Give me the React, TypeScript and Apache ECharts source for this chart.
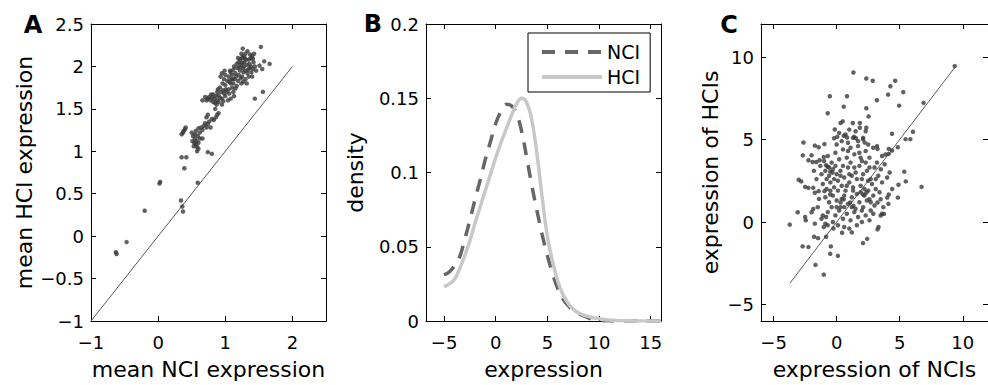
import React, { useEffect, useRef } from 'react';
import * as echarts from 'echarts';

const FONT = 'DejaVu Sans';

// ---------- Panel A : mean NCI vs mean HCI expression ----------
const scatterA: number[][] = [
  // upper dense cluster
  [1.20, 2.05], [1.22, 2.08], [1.25, 2.10], [1.27, 2.12], [1.30, 2.15], [1.24, 2.15], [1.28, 2.05], [1.32, 2.02],
  [1.35, 2.08], [1.38, 2.10], [1.40, 2.12], [1.42, 2.05], [1.36, 1.98], [1.30, 1.95], [1.26, 1.98], [1.22, 1.95],
  [1.18, 1.98], [1.15, 1.92], [1.20, 1.90], [1.25, 1.88], [1.33, 1.92], [1.38, 2.00], [1.41, 1.97], [1.28, 2.00],
  [1.23, 2.02], [1.17, 2.03], [1.12, 1.96], [1.10, 1.90], [1.14, 1.85], [1.19, 1.83], [1.24, 1.80], [1.30, 1.85],
  [1.35, 1.88], [1.39, 1.93], [1.43, 2.15], [1.33, 2.18], [1.26, 2.21], [1.31, 2.08], [1.27, 1.93], [1.21, 1.99],
  [1.16, 1.88], [1.13, 2.00], [1.29, 2.10], [1.36, 2.03], [1.44, 2.00], [1.37, 2.14], [1.19, 2.10], [1.34, 1.96],
  [1.40, 1.88], [1.46, 1.95], [1.23, 1.86], [1.09, 1.85], [1.12, 1.80], [1.17, 1.77], [1.06, 1.82], [1.27, 1.82],
  [1.32, 1.80], [1.08, 1.93], [1.41, 2.09], [1.25, 2.04],
  // middle cluster
  [0.95, 1.92], [1.00, 1.90], [1.05, 1.88], [0.98, 1.85], [1.03, 1.83], [1.08, 1.80], [1.10, 1.75], [1.05, 1.73],
  [1.00, 1.78], [0.96, 1.80], [0.92, 1.75], [0.94, 1.70], [0.98, 1.68], [1.02, 1.70], [1.06, 1.68], [0.90, 1.66],
  [0.88, 1.70], [0.86, 1.65], [0.84, 1.62], [0.88, 1.60], [0.92, 1.63], [0.95, 1.62], [1.00, 1.65], [0.82, 1.67],
  [0.80, 1.63], [0.78, 1.60], [0.76, 1.64], [0.74, 1.62], [0.72, 1.60], [0.70, 1.64], [0.66, 1.60], [0.90, 1.58],
  [0.85, 1.57], [0.97, 1.59], [1.04, 1.60], [1.12, 1.70], [1.13, 1.65], [1.08, 1.62], [0.93, 1.88], [0.99, 1.95],
  [1.07, 1.95], [1.11, 1.85], [0.87, 1.55], [0.82, 1.58], [0.79, 1.67], [0.95, 1.55], [1.01, 1.73], [0.97, 1.72],
  [0.89, 1.73], [1.15, 1.74],
  // lower band
  [0.35, 1.20], [0.37, 1.22], [0.38, 1.24], [0.40, 1.26], [0.41, 1.28], [0.50, 1.22], [0.52, 1.18], [0.55, 1.15],
  [0.54, 1.10], [0.56, 1.08], [0.58, 1.05], [0.53, 1.06], [0.57, 1.12], [0.60, 1.10], [0.59, 1.18], [0.62, 1.22],
  [0.56, 1.24], [0.60, 1.27], [0.64, 1.28], [0.66, 1.25], [0.68, 1.30], [0.70, 1.33], [0.72, 1.28], [0.74, 1.32],
  [0.76, 1.35], [0.72, 1.40], [0.74, 1.43], [0.80, 1.38], [0.83, 1.37], [0.86, 1.40], [0.88, 1.43], [0.90, 1.45],
  [0.85, 1.50], [0.62, 1.15], [0.55, 1.20], [0.51, 1.12], [0.58, 1.00], [0.60, 1.03], [0.66, 1.15], [0.78, 1.28],
  // scattered points
  [0.74, 0.99], [0.80, 0.97], [0.35, 0.93], [0.42, 0.93], [0.39, 0.80], [0.02, 0.62], [0.03, 0.64], [0.59, 0.63],
  [0.34, 0.42], [0.36, 0.35], [0.37, 0.29], [-0.20, 0.30], [-0.47, -0.07], [-0.63, -0.19], [-0.62, -0.21],
  [1.53, 2.23], [1.58, 2.06], [1.66, 2.03], [1.51, 2.01], [1.55, 1.97], [1.56, 1.70], [1.44, 1.62],
];
const diagonalA: number[][] = [[-1, -1], [2, 2]];
const ticksAX = [-1, 0, 1, 2];
const ticksAY = [-1, -0.5, 0, 0.5, 1, 1.5, 2, 2.5];

// ---------- Panel B : density of expression ----------
const densityX = [-5, -4.5, -4, -3.5, -3, -2.5, -2, -1.5, -1, -0.5, 0, 0.5, 1, 1.5, 2, 2.5, 3, 3.5, 4, 4.5, 5, 5.5, 6, 6.5, 7, 7.5, 8, 8.5, 9, 9.5, 10, 11, 12, 13, 14, 15, 16];
const densityNCI = [0.031, 0.033, 0.037, 0.043, 0.055, 0.068, 0.082, 0.095, 0.109, 0.121, 0.133, 0.141, 0.146, 0.145, 0.140, 0.128, 0.110, 0.091, 0.074, 0.058, 0.044, 0.032, 0.022, 0.015, 0.0105, 0.007, 0.005, 0.0035, 0.002, 0.001, 0.0005, 0.0001, 0, 0, 0, 0, 0];
const densityHCI = [0.023, 0.025, 0.028, 0.035, 0.044, 0.054, 0.066, 0.077, 0.088, 0.099, 0.110, 0.120, 0.129, 0.138, 0.146, 0.150, 0.147, 0.135, 0.112, 0.083, 0.057, 0.040, 0.027, 0.018, 0.012, 0.008, 0.0055, 0.004, 0.003, 0.002, 0.0015, 0.0006, 0.0002, 0.0001, 0, 0, 0];
const seriesNames = ['NCI', 'HCI'];
const ticksBX = [-5, 0, 5, 10, 15];
const ticksBY = [0, 0.05, 0.1, 0.15, 0.2];

// ---------- Panel C : NCIs vs HCIs ----------
const scatterC: number[][] = [
  [9.36, 9.45], [-3.72, -0.16], [1.33, 9.06], [2.35, 8.70], [2.86, 8.56], [4.64, 8.56], [4.26, 8.23], [4.08, 7.72],
  [5.28, 7.87], [-0.54, 7.62], [0.82, 7.62], [3.19, 7.38], [6.89, 7.22], [0.56, 6.99], [2.35, 6.89], [4.95, 7.05],
  [-0.71, 6.59], [2.53, 6.40], [0.48, 6.10], [0.31, 6.0], [1.28, 6.0], [1.84, 6.0], [-0.15, 5.61], [1.84, 5.71],
  [2.35, 5.71], [4.39, 5.35], [6.05, 5.47], [5.46, 5.02], [5.84, 5.02], [-2.63, 4.82], [-1.73, 4.63], [-0.97, 4.72],
  [-1.43, 4.53], [-0.2, 5.08], [0.05, 5.16], [0.56, 5.22], [0.82, 5.12], [1.38, 5.16], [1.53, 5.08], [2.09, 5.02],
  [2.22, 4.82], [4.85, 4.53], [4.13, 4.43], [4.39, 4.33], [4.13, 4.13], [3.88, 4.09], [3.24, 4.43], [-2.68, 4.04],
  [-1.99, 4.04], [-2.24, 3.74], [-1.91, 3.64], [-1.61, 3.64], [-1.35, 3.74], [-1.02, 3.94], [-0.84, 3.44], [-0.71, 3.35],
  [-0.51, 3.05], [-0.33, 2.99], [-3.01, 2.56], [-2.81, 2.46], [-2.50, 2.13], [-2.24, 2.07], [-1.86, 2.07], [-1.73, 1.77],
  [-1.43, 1.87], [-0.97, 1.87], [-0.51, 1.67], [0.31, 1.18], [0.56, 1.38], [1.07, 1.18], [1.33, 0.98], [2.09, 1.67],
  [2.35, 1.77], [2.60, 1.38], [3.24, 1.18], [3.49, 1.38], [4.13, 1.67], [4.01, 1.48], [4.85, 1.48], [4.90, 2.26],
  [5.48, 2.46], [6.73, 2.13], [5.36, 3.05], [-3.09, 0.59], [-2.50, 0.30], [-2.45, 0.10], [-1.86, 0.79], [-1.99, 0.59],
  [-1.73, -0.10], [-1.10, 0.39], [-0.84, 0.30], [-1.02, -0.30], [-0.71, -0.20], [-1.79, -0.89], [-1.48, -0.98],
  [-2.70, -1.48], [-2.24, -1.52], [-0.84, -0.89], [-0.26, -0.39], [-0.46, -1.48], [-0.51, -1.93], [0.10, -2.05],
  [-1.68, -2.60], [-1.02, -3.19], [0.43, -0.65], [1.20, -0.63], [2.09, -1.28], [2.42, -1.02], [3.24, -0.45],
  [3.32, -0.30], [3.49, 0.39], [3.75, 0.49],
  // dense core
  [-1.2, 2.9], [-0.9, 3.1], [-0.6, 2.8], [-0.3, 3.2], [0.0, 2.9], [0.3, 3.1], [0.6, 2.7], [0.9, 3.3], [1.2, 2.8],
  [1.5, 3.0], [1.8, 3.4], [2.1, 2.9], [2.4, 3.1], [2.7, 2.6], [3.0, 3.3],
  [-1.1, 2.3], [-0.8, 2.0], [-0.5, 2.4], [-0.2, 2.1], [0.1, 2.5], [0.4, 2.2], [0.7, 1.9], [1.0, 2.4], [1.3, 2.1],
  [1.6, 2.6], [1.9, 2.2], [2.2, 2.0], [2.5, 2.5], [2.8, 2.3], [3.1, 2.0],
  [-0.9, 1.5], [-0.6, 1.2], [-0.3, 1.6], [0.0, 1.3], [0.3, 0.9], [0.6, 1.6], [0.9, 1.1], [1.2, 1.5], [1.5, 0.8],
  [1.8, 1.2], [2.1, 0.9], [2.4, 1.3], [2.7, 0.7], [3.0, 1.0],
  [-0.7, 0.6], [-0.4, 0.9], [-0.1, 0.4], [0.2, 0.7], [0.5, 0.2], [0.8, 0.5], [1.1, 0.1], [1.4, 0.6], [1.7, 0.3],
  [2.0, 0.7], [2.3, 0.4], [2.6, 0.1], [2.9, 0.5],
  [-1.0, 3.7], [-0.7, 4.0], [-0.4, 3.6], [-0.1, 4.2], [0.2, 3.8], [0.5, 4.4], [0.8, 3.9], [1.1, 4.5], [1.4, 4.1],
  [1.7, 4.6], [2.0, 3.7], [2.3, 4.3], [2.6, 3.9], [2.9, 4.5], [3.2, 3.6],
  [0.0, 4.7], [0.4, 4.9], [0.9, 4.8], [1.3, 5.1], [1.7, 4.9], [2.1, 5.1], [2.5, 4.7], [0.7, 5.3], [1.0, 5.6],
  [0.2, 5.4], [1.5, 5.5], [2.3, 5.5],
  [-1.6, 2.6], [-1.8, 3.1], [-1.4, 1.4], [-1.5, 0.9], [-1.2, 0.2], [-0.9, -0.1], [-0.3, 0.0], [0.1, -0.2],
  [0.6, -0.3], [1.0, -0.4], [1.6, -0.2], [2.0, 0.0],
  [3.3, 2.8], [3.5, 3.2], [3.4, 1.8], [3.6, 2.4], [3.7, 0.9], [3.6, 0.5], [3.8, 3.5], [4.0, 2.7], [4.2, 3.0],
  [4.4, 2.0], [4.1, 1.1], [3.2, 4.6], [3.6, 4.0],
  [-1.3, 3.4], [-0.5, 1.9], [0.5, 3.4], [1.1, 3.6], [1.9, 3.9], [2.6, 3.3], [0.4, 1.4], [1.3, 1.9], [2.2, 1.6],
  [-0.1, 3.4], [0.8, 2.2], [1.6, 1.7], [2.9, 1.6], [0.3, 2.8], [1.4, 3.3], [2.0, 2.6],
  [-0.2, 2.6], [0.6, 0.9], [1.2, 0.9], [1.9, 1.8], [2.5, 1.9], [0.9, 4.3], [1.8, 4.2], [-0.6, 3.3], [0.1, 1.9],
  [2.7, 1.2], [3.1, 2.6], [1.0, 2.9], [0.0, 0.9], [-0.8, 2.6], [2.3, 3.6],
];
const diagonalC: number[][] = [[-3.7, -3.7], [9.4, 9.4]];
const ticksC = [-5, 0, 5, 10];

const axisTitles = {
  ax: 'mean NCI expression', ay: 'mean HCI expression',
  bx: 'expression', by: 'density',
  cx: 'expression of NCIs', cy: 'expression of HCIs',
};

const fmt = (v: number) => String(v).replace('-', '\u2212');

const grids = [
  { left: 91, top: 24, width: 235, height: 305 },
  { left: 426, top: 24, width: 235, height: 305 },
  { left: 761, top: 24, width: 235, height: 305 },
];

function tick(ticks: number[]) {
  return { show: true, inside: true, length: 5, customValues: ticks, lineStyle: { color: '#000', width: 1 } };
}

const frameLine = { show: true, onZero: false, lineStyle: { color: '#000', width: 1 } };

function xAxes(gridIndex: number, min: number, max: number, ticks: number[], name: string) {
  return [
    {
      type: 'value', gridIndex, min, max, position: 'bottom',
      axisLine: frameLine, splitLine: { show: false }, axisTick: tick(ticks),
      axisLabel: { customValues: ticks, formatter: fmt, fontFamily: FONT, fontSize: 18, color: '#000', margin: 12 },
      name, nameLocation: 'middle', nameGap: 37,
      nameTextStyle: { fontFamily: FONT, fontSize: 22, color: '#000' },
    },
    {
      type: 'value', gridIndex, min, max, position: 'top',
      axisLine: frameLine, splitLine: { show: false }, axisTick: tick(ticks),
      axisLabel: { show: false },
    },
  ];
}

function yAxes(gridIndex: number, min: number, max: number, ticks: number[], name: string, gap: number) {
  return [
    {
      type: 'value', gridIndex, min, max, position: 'left',
      axisLine: frameLine, splitLine: { show: false }, axisTick: tick(ticks),
      axisLabel: { customValues: ticks, formatter: fmt, fontFamily: FONT, fontSize: 18, color: '#000', margin: 7 },
      name, nameLocation: 'middle', nameGap: gap, nameRotate: 90,
      nameTextStyle: { fontFamily: FONT, fontSize: 22, color: '#000' },
    },
    {
      type: 'value', gridIndex, min, max, position: 'right',
      axisLine: frameLine, splitLine: { show: false }, axisTick: tick(ticks),
      axisLabel: { show: false },
    },
  ];
}

export default function App() {
  const ref = useRef<HTMLDivElement>(null);
  useEffect(() => {
    if (!ref.current) return;
    const chart = echarts.init(ref.current, null, { renderer: 'svg' });
    const letters = ['A', 'B', 'C'];
    const letterPos = [[33, 25], [373, 24], [729, 25]];
    chart.setOption({
      animation: false,
      backgroundColor: '#fff',
      grid: grids.map((g) => ({ ...g, show: false, containLabel: false })),
      xAxis: [
        ...xAxes(0, -1, 2.5, ticksAX, axisTitles.ax),
        ...xAxes(1, -6.75, 16, ticksBX, axisTitles.bx),
        ...xAxes(2, -6, 12, ticksC, axisTitles.cx),
      ],
      yAxis: [
        ...yAxes(0, -1, 2.5, ticksAY, axisTitles.ay, 56),
        ...yAxes(1, 0, 0.2, ticksBY, axisTitles.by, 60),
        ...yAxes(2, -6, 12, ticksC, axisTitles.cy, 40),
      ],
      legend: {
        data: seriesNames,
        orient: 'vertical',
        left: 528, top: 33,
        padding: [9, 10, 5, 12],
        itemWidth: 60, itemHeight: 20, itemGap: 5,
        borderColor: '#000', borderWidth: 1, borderRadius: 0,
        backgroundColor: '#fff',
        itemStyle: { opacity: 0 },
        lineStyle: { width: 4 },
        textStyle: { fontFamily: FONT, fontSize: 19, color: '#000', lineHeight: 20 },
      },
      graphic: letters.map((t, i) => ({
        type: 'text', x: letterPos[i][0], y: letterPos[i][1],
        style: { text: t, fontFamily: FONT, fontWeight: 'bold', fontSize: 24, fill: '#000', align: 'center', verticalAlign: 'middle' },
      })),
      series: [
        {
          type: 'line', xAxisIndex: 0, yAxisIndex: 0, data: diagonalA, symbol: 'none',
          lineStyle: { color: '#5a5a5a', width: 1 }, silent: true, z: 1,
        },
        {
          type: 'scatter', xAxisIndex: 0, yAxisIndex: 0, data: scatterA, symbolSize: 4.5,
          itemStyle: { color: '#3a3a3a' }, z: 2,
        },
        {
          name: seriesNames[0], type: 'line', xAxisIndex: 2, yAxisIndex: 2,
          data: densityX.map((x, i) => [x, densityNCI[i]]), symbol: 'none', showSymbol: false, smooth: 0.4,
          lineStyle: { color: '#666666', width: 3.5, type: [13, 10] }, itemStyle: { color: '#666666' }, z: 2,
        },
        {
          name: seriesNames[1], type: 'line', xAxisIndex: 2, yAxisIndex: 2,
          data: densityX.map((x, i) => [x, densityHCI[i]]), symbol: 'none', showSymbol: false, smooth: 0.4,
          lineStyle: { color: '#c8c8c8', width: 3.5 }, itemStyle: { color: '#c8c8c8' }, z: 3,
        },
        {
          type: 'line', xAxisIndex: 4, yAxisIndex: 4, data: diagonalC, symbol: 'none',
          lineStyle: { color: '#5a5a5a', width: 1 }, silent: true, z: 1,
        },
        {
          type: 'scatter', xAxisIndex: 4, yAxisIndex: 4, data: scatterC, symbolSize: 4.5,
          itemStyle: { color: '#3a3a3a' }, z: 2,
        },
      ],
    });
    return () => chart.dispose();
  }, []);
  return (
    <div
      ref={ref}
      style={{ position: 'fixed', left: 0, top: 0, width: 988, height: 385, background: '#fff' }}
    />
  );
}
